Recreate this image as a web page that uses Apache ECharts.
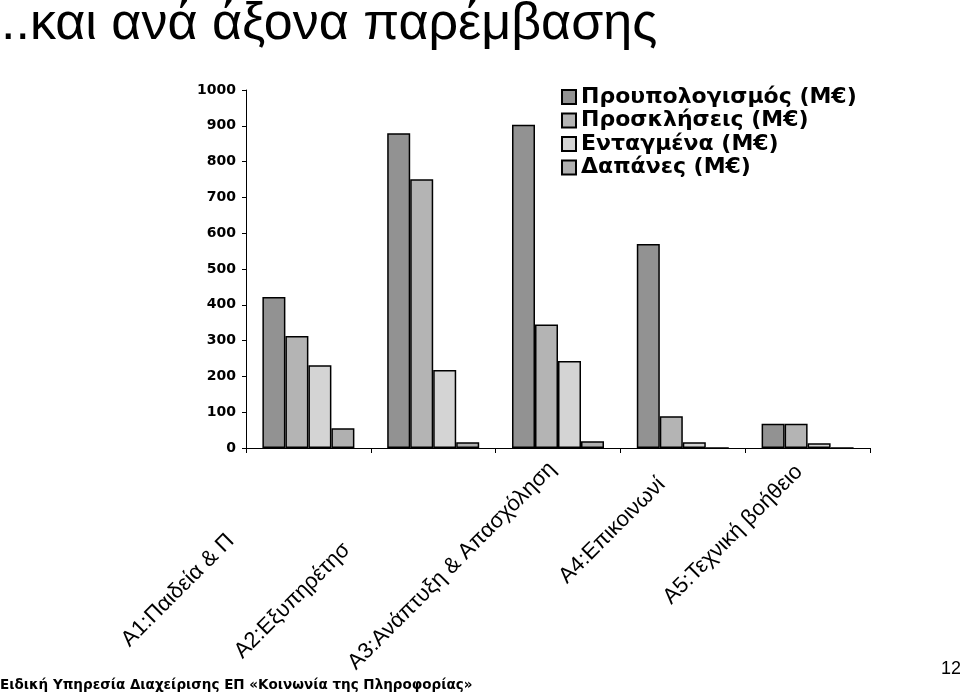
<!DOCTYPE html>
<html>
<head>
<meta charset="utf-8">
<style>
html,body{margin:0;padding:0;background:#fff;}
#chart{width:960px;height:695px;}
</style>
<script src="https://cdn.jsdelivr.net/npm/echarts@6/dist/echarts.min.js"></script>
</head>
<body>
<div id="chart"></div>
<script>
const categories = ['Α1:Παιδεία & Π', 'Α2:Εξυπηρέτησ', 'Α3:Ανάπτυξη & Απασχόληση', 'Α4:Επικοινωνί', 'Α5:Τεχνική βοήθειο'];
const labelShift = [110, 122, 8, 30, 12];
const seriesNames = ['Προυπολογισμός (Μ€)', 'Προσκλήσεις (Μ€)', 'Ενταγμένα (Μ€)', 'Δαπάνες (Μ€)'];
const budget = [422, 879, 903, 570, 68];
const calls = [313, 751, 345, 89, 68];
const approved = [231, 218, 243, 16, 13];
const spending = [55, 16, 19, 0, 0];
const yTicks = [0, 100, 200, 300, 400, 500, 600, 700, 800, 900, 1000];
const colors = ['#929292', '#b4b4b4', '#d4d4d4', '#b0b0b0'];

const chart = echarts.init(document.getElementById('chart'));
const values = [budget, calls, approved, spending];
chart.setOption({
  animation: false,
  title: [
    {text: '..και ανά άξονα παρέμβασης', left: -4, top: -6,
     textStyle: {fontFamily: 'Liberation Sans', fontSize: 52, fontWeight: 'normal', color: '#000'}},
    {text: 'Ειδική Υπηρεσία Διαχείρισης ΕΠ «Κοινωνία της Πληροφορίας»', left: -5, top: 673,
     textStyle: {fontFamily: 'DejaVu Sans', fontSize: 13.5, fontWeight: 'bold', color: '#000'}},
    {text: '12', left: 936, top: 655,
     textStyle: {fontFamily: 'Liberation Sans', fontSize: 18, fontWeight: 'normal', color: '#000'}}
  ],
  legend: {
    orient: 'vertical', left: 556, top: 81, itemWidth: 14, itemHeight: 14, itemGap: 1.5,
    icon: 'rect',
    textStyle: {fontFamily: 'DejaVu Sans', fontWeight: 'bold', fontSize: 22, color: '#000'},
    data: seriesNames
  },
  grid: {left: 246, right: 90, top: 90, bottom: 247, containLabel: false},
  xAxis: {
    type: 'category',
    data: categories.map((c, i) => ({value: c, textStyle: {padding: [0, labelShift[i], 0, 0]}})),
    axisLine: {lineStyle: {color: '#000', width: 1}},
    axisTick: {show: true, length: 5, lineStyle: {color: '#000'}},
    axisLabel: {interval: 0, rotate: 45, margin: 12, fontFamily: 'Liberation Sans', fontSize: 22, color: '#000'},
    splitLine: {show: false}
  },
  yAxis: {
    type: 'value', min: yTicks[0], max: yTicks[yTicks.length - 1], interval: 100,
    axisLine: {show: true, lineStyle: {color: '#000', width: 1}},
    axisTick: {show: true, length: 4, lineStyle: {color: '#000'}},
    axisLabel: {fontFamily: 'DejaVu Sans', fontWeight: 'bold', fontSize: 14, color: '#000', margin: 10,
      formatter: v => String(v)},
    splitLine: {show: false}
  },
  series: seriesNames.map((n, i) => ({
    name: n, type: 'bar', data: values[i], barWidth: 23, barGap: '0%',
    itemStyle: {color: colors[i], borderColor: '#000', borderWidth: 1.5}
  }))
});
</script>
</body>
</html>
